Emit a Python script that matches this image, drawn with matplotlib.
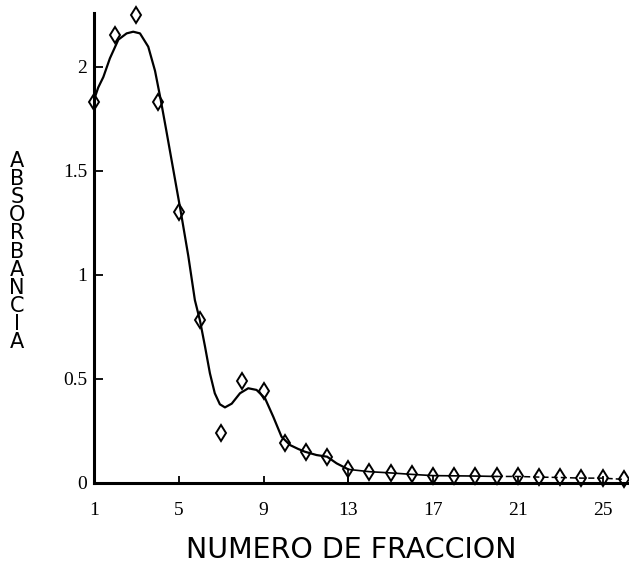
import matplotlib
matplotlib.use("Agg")
import matplotlib.pyplot as plt

# Measured points (fraction number, absorbance)
fraccion = [1, 2, 3, 4, 5, 6, 7, 8, 9, 10, 11, 12, 13, 14, 15, 16, 17, 18, 19, 20, 21, 22, 23, 24, 25, 26]
absorbancia = [1.83, 2.15, 2.25, 1.83, 1.30, 0.78, 0.24, 0.49, 0.44, 0.19, 0.146, 0.125, 0.064,
               0.053, 0.047, 0.040, 0.034, 0.033, 0.032, 0.030, 0.030, 0.027, 0.025, 0.022, 0.022, 0.016]

# Hand-drawn smooth curve
curva_x = [1.0, 1.2, 1.44, 1.75, 2.15, 2.54, 2.85, 3.17, 3.56, 3.88, 4.15, 4.4, 4.75, 5.1, 5.45,
           5.76, 6.0, 6.24, 6.47, 6.7, 6.94, 7.18, 7.5, 7.89, 8.28, 8.67, 9.07, 9.46, 9.85,
           10.25, 10.64, 10.95, 11.5, 12.0, 12.45, 13.0]
curva_y = [1.84, 1.90, 1.95, 2.04, 2.13, 2.16, 2.168, 2.16, 2.096, 1.98, 1.84, 1.70, 1.50, 1.30, 1.09,
           0.878, 0.78, 0.654, 0.526, 0.43, 0.377, 0.362, 0.38, 0.43, 0.454, 0.446, 0.406, 0.317, 0.221,
           0.181, 0.162, 0.149, 0.133, 0.125, 0.093, 0.064]

xticks = [1, 5, 9, 13, 17, 21, 25]
yticks = [0, 0.5, 1, 1.5, 2]
ytick_labels = ["0", "0.5", "1", "1.5", "2"]

fig = plt.figure(figsize=(6.29, 5.66), dpi=100)
ax = fig.add_axes([94 / 629, (566 - 482.7) / 566, 534 / 629, 469.7 / 566])

ax.plot(curva_x, curva_y, color="black", lw=1.6, zorder=3, solid_joinstyle="round")
# tail: solid up to fraction 20, dashed afterwards
ax.plot(fraccion[12:20], absorbancia[12:20], color="black", lw=1.2, zorder=3)
ax.plot(fraccion[19:], absorbancia[19:], color="black", lw=1.1, ls=(0, (4, 2)), zorder=3)
ax.plot(fraccion, absorbancia, ls="none", marker="d", markersize=8.5, markerfacecolor="none",
        markeredgecolor="black", markeredgewidth=1.4, clip_on=False, zorder=4)
ax.vlines(fraccion[12], 0, absorbancia[12], color="black", lw=1.2)

ax.set_xlim(1, 26.2)
ax.set_ylim(0, 2.258)
for s in ["top", "right"]:
    ax.spines[s].set_visible(False)
ax.spines["left"].set_linewidth(2.2)
ax.spines["bottom"].set_linewidth(2.2)

ax.set_xticks(xticks)
ax.set_xticklabels([str(t) for t in xticks], family="Liberation Serif", fontsize=14)
ax.set_yticks(yticks)
ax.set_yticklabels(ytick_labels, family="Liberation Serif", fontsize=14)
ax.tick_params(axis="x", direction="in", length=5, width=1.3, pad=14)
ax.tick_params(axis="y", direction="in", length=6.5, width=1.3, pad=5)

fig.text(17 / 629, 1 - 251.5 / 566, "\n".join("ABSORBANCIA"), ha="center", va="center",
         fontsize=15, linespacing=0.88, family="DejaVu Sans", fontweight="medium")
fig.text(351.5 / 629, 1 - 550 / 566, "NUMERO DE FRACCION", ha="center", va="center",
         fontsize=20.5, family="DejaVu Sans")

fig.savefig("out.png", dpi=100)
